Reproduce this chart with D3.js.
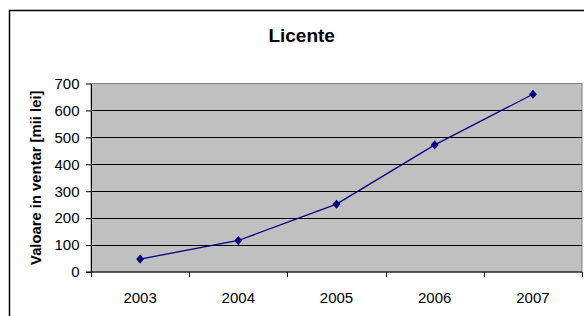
<!DOCTYPE html>
<html>
<head>
<meta charset="utf-8">
<script src="https://cdn.jsdelivr.net/npm/d3@7"></script>
<style>
  body { margin:0; background:#fff; }
  svg { display:block; font-family:"Liberation Sans", Arial, sans-serif; }
</style>
</head>
<body>
<div id="plot"></div>
<script>
// data
var years = ['2003','2004','2005','2006','2007'];
var values = [48, 117, 252, 472, 660];
var yTicks = [0,100,200,300,400,500,600,700];
var chartTitle = 'Licente';
var yTitle = 'Valoare in ventar [mii lei]';

// plot area
var box = {l:91, r:582, t:83.5, b:272};

var svg = d3.select('#plot')
	.append('svg')
	.attr('width',584)
	.attr('height',316);

// outer chart frame (runs off the bottom/right of the picture)
svg.append('rect')
	.attr('x',9.5).attr('y',10.5)
	.attr('width',620).attr('height',400)
	.attr('fill','#fff')
	.attr('stroke','#000')
	.attr('stroke-width',1.5);

var x = d3.scaleBand().domain(years).range([box.l, box.r]);
var y = d3.scaleLinear().domain([0,700]).range([box.b, box.t]);

// grey plot background
svg.append('rect')
	.attr('x',box.l).attr('y',box.t)
	.attr('width',box.r-box.l).attr('height',box.b-box.t)
	.attr('fill','#c0c0c0')
	.attr('stroke','#808080')
	.attr('stroke-width',1);

// horizontal gridlines
svg.append('g').selectAll('line')
	.data(yTicks.slice(1, -1))
	.enter().append('line')
	.attr('x1',box.l).attr('x2',box.r)
	.attr('y1',function(d){ return Math.round(y(d))+0.5; })
	.attr('y2',function(d){ return Math.round(y(d))+0.5; })
	.attr('stroke','#000')
	.attr('stroke-width',1);

// y axis
var yAxis = svg.append('g')
	.attr('transform','translate('+box.l+',0)')
	.call(d3.axisLeft(y).tickValues(yTicks).tickSize(5).tickPadding(6.5).tickSizeOuter(0));
yAxis.select('.domain').attr('stroke','#000');
yAxis.selectAll('.tick line').attr('stroke','#000');
yAxis.selectAll('text').attr('font-size','15px').attr('fill','#000')
	.attr('font-family','"Liberation Sans", Arial, sans-serif');

// x axis: labels centred in bands, ticks on band edges
var xAxis = svg.append('g')
	.attr('transform','translate(0,'+box.b+')')
	.call(d3.axisBottom(x).tickSize(0).tickPadding(20));
xAxis.select('.domain').remove();
xAxis.selectAll('text').attr('font-size','15px').attr('fill','#000')
	.attr('font-family','"Liberation Sans", Arial, sans-serif');

svg.append('line')
	.attr('x1',box.l-5).attr('x2',box.r)
	.attr('y1',box.b).attr('y2',box.b)
	.attr('stroke','#000');

var edges = years.map(function(d){ return x(d); }).concat([x(years[years.length-1]) + x.bandwidth()]);
svg.append('g').selectAll('line')
	.data(edges)
	.enter().append('line')
	.attr('x1',function(d){ return Math.round(d)+0.5; })
	.attr('x2',function(d){ return Math.round(d)+0.5; })
	.attr('y1',box.b).attr('y2',box.b+5)
	.attr('stroke','#000');

// series line
var pts = years.map(function(d,i){ return {year:d, value:values[i]}; });
var line = d3.line()
	.x(function(d){ return x(d.year)+x.bandwidth()/2; })
	.y(function(d){ return y(d.value); });

svg.append('path')
	.datum(pts)
	.attr('d',line)
	.attr('fill','none')
	.attr('stroke','#000080')
	.attr('stroke-width',1.3);

// diamond markers (square turned 45 degrees)
svg.append('g').selectAll('path')
	.data(pts)
	.enter().append('path')
	.attr('d',d3.symbol().type(d3.symbolSquare).size(38))
	.attr('transform',function(d){ return 'translate('+(x(d.year)+x.bandwidth()/2)+','+y(d.value)+') scale(0.9,1.05) rotate(45)'; })
	.attr('fill','#000080');

// titles
svg.append('text')
	.attr('x',301.7).attr('y',41.7)
	.attr('text-anchor','middle')
	.attr('font-size','19px')
	.attr('font-weight','bold')
	.text(chartTitle);

svg.append('text')
	.attr('transform','translate(40.5,'+((box.t+box.b)/2)+') rotate(-90)')
	.attr('text-anchor','middle')
	.attr('font-size','14.8px')
	.attr('font-weight','bold')
	.text(yTitle);
</script>
</body>
</html>
